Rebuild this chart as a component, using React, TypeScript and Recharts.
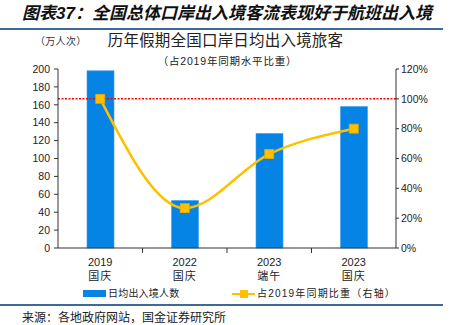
import React from 'react';
import { ComposedChart, Bar, Line, XAxis, YAxis, ReferenceLine } from 'recharts';

const years = ['2019', '2022', '2023', '2023'];
const holidays = ['国庆', '国庆', '端午', '国庆'];
const dailyPassengers = [198, 53, 128, 158];
const shareOf2019 = [100, 26.7, 63, 80];
const leftTicks = [0, 20, 40, 60, 80, 100, 120, 140, 160, 180, 200];
const rightTicks = [0, 20, 40, 60, 80, 100, 120];

const data = years.map((y, i) => ({
  cat: `${y}|${holidays[i]}`,
  value: dailyPassengers[i],
  share: shareOf2019[i],
}));

const FONT = '"Liberation Sans", Arial, "Noto Sans CJK SC", sans-serif';
const BLUE = '#0584E6';
const GOLD = '#FFC000';
const AXIS = '#333333';
const RULE = '#3F6A98';

const XTick = (props: any) => {
  const { x, y, payload, index, visibleTicksCount, width } = props;
  const [yr, hol] = String(payload.value).split('|');
  const count = visibleTicksCount || 4;
  const band = (width || 338) / count;
  return (
    <g>
      {index < count - 1 && (
        <line x1={x + band / 2} x2={x + band / 2} y1={y} y2={y + 5} stroke={AXIS} strokeWidth={1} />
      )}
      <text x={x} y={y + 18} textAnchor="middle" fontSize={11} fill="#222" fontFamily={FONT}>{yr}</text>
      <text x={x} y={y + 32} textAnchor="middle" fontSize={11} fill="#222" fontFamily={FONT} letterSpacing={1}>{hol}</text>
    </g>
  );
};

const SquareDot = (props: any) => {
  const { cx, cy, index } = props;
  if (cx == null || cy == null) return <g key={index} />;
  return <rect key={index} x={cx - 4.5} y={cy - 4.5} width={9} height={9} fill={GOLD} stroke="#E5A800" strokeWidth={0.8} />;
};

const abs = (style: React.CSSProperties): React.CSSProperties => ({ position: 'absolute', whiteSpace: 'nowrap', ...style });

export default function App() {
  return (
    <div style={{ position: 'absolute', left: 0, top: 0, width: 451, height: 325, background: '#fff', fontFamily: FONT, overflow: 'hidden' }}>
      <div style={abs({ left: 22, top: 3, height: 22, lineHeight: '22px', fontSize: 17, fontWeight: 'bold', fontStyle: 'italic', color: '#111', letterSpacing: 0 })}>
        图表37：全国总体口岸出入境客流表现好于航班出入境
      </div>
      <div style={abs({ left: 0, top: 28, width: 443, height: 2, background: RULE })} />
      <div style={abs({ left: 35, top: 34, height: 16, lineHeight: '16px', fontSize: 10, color: '#333', letterSpacing: 0.3 })}>（万人次）</div>
      <div style={abs({ left: 0, width: 451, textAlign: 'center', top: 32, height: 18, lineHeight: '18px', fontSize: 15.5, color: '#222', letterSpacing: 0.2 })}>
        历年假期全国口岸日均出入境旅客
      </div>
      <div style={abs({ left: 2, width: 451, textAlign: 'center', top: 54, height: 14, lineHeight: '14px', fontSize: 10.5, color: '#222', letterSpacing: 0.8 })}>
        （占2019年同期水平比重）
      </div>

      <div style={{ position: 'absolute', left: 0, top: 0 }}>
        <ComposedChart width={451} height={325} data={data} margin={{ top: 69, right: 15, bottom: 47, left: 18 }}>
          <XAxis
            dataKey="cat"
            xAxisId="x"
            height={30}
            tickLine={false}
            tickSize={0}
            tickMargin={0}
            axisLine={{ stroke: AXIS, strokeWidth: 1.2 }}
            tick={<XTick />}
            interval={0}
          />
          <YAxis
            yAxisId="left"
            orientation="left"
            width={40}
            domain={[0, 200]}
            ticks={leftTicks}
            interval={0}
            tickSize={4}
            tickMargin={4}
            axisLine={{ stroke: AXIS }}
            tickLine={{ stroke: AXIS }}
            tick={{ fontSize: 10.5, fill: '#222', fontFamily: FONT }}
          />
          <YAxis
            yAxisId="right"
            orientation="right"
            width={40}
            domain={[0, 120]}
            ticks={rightTicks}
            interval={0}
            tickSize={3}
            tickMargin={2}
            axisLine={{ stroke: AXIS }}
            tickLine={{ stroke: AXIS }}
            tickFormatter={(v: number) => `${v}%`}
            tick={{ fontSize: 10.5, fill: '#222', fontFamily: FONT }}
          />
          <Bar xAxisId="x" yAxisId="left" dataKey="value" fill={BLUE} stroke="#3B9CEB" strokeWidth={0.6} barSize={27} isAnimationActive={false} />
          <ReferenceLine xAxisId="x" yAxisId="right" y={100} stroke="#FF0000" strokeWidth={1.5} strokeDasharray="2 1.5" />
          <Line
            xAxisId="x"
            yAxisId="right"
            type="monotone"
            dataKey="share"
            stroke={GOLD}
            strokeWidth={2.5}
            dot={<SquareDot />}
            activeDot={false}
            isAnimationActive={false}
          />
        </ComposedChart>
      </div>

      <div style={abs({ left: 83, top: 290, width: 23, height: 7, background: BLUE })} />
      <div style={abs({ left: 108, top: 287, height: 14, lineHeight: '14px', fontSize: 10, color: '#222', letterSpacing: 0.2 })}>日均出入境人数</div>
      <div style={abs({ left: 232, top: 292.5, width: 23, height: 2.5, background: GOLD })} />
      <div style={abs({ left: 240, top: 290, width: 8, height: 8, background: GOLD })} />
      <div style={abs({ left: 257, top: 287, height: 14, lineHeight: '14px', fontSize: 10, color: '#222', letterSpacing: 1.2 })}>占2019年同期比重（右轴）</div>

      <div style={abs({ left: 0, top: 304, width: 443, height: 1.5, background: RULE })} />
      <div style={abs({ left: 22, top: 311, height: 14, lineHeight: '14px', fontSize: 12, color: '#222' })}>来源：各地政府网站，国金证券研究所</div>
    </div>
  );
}
